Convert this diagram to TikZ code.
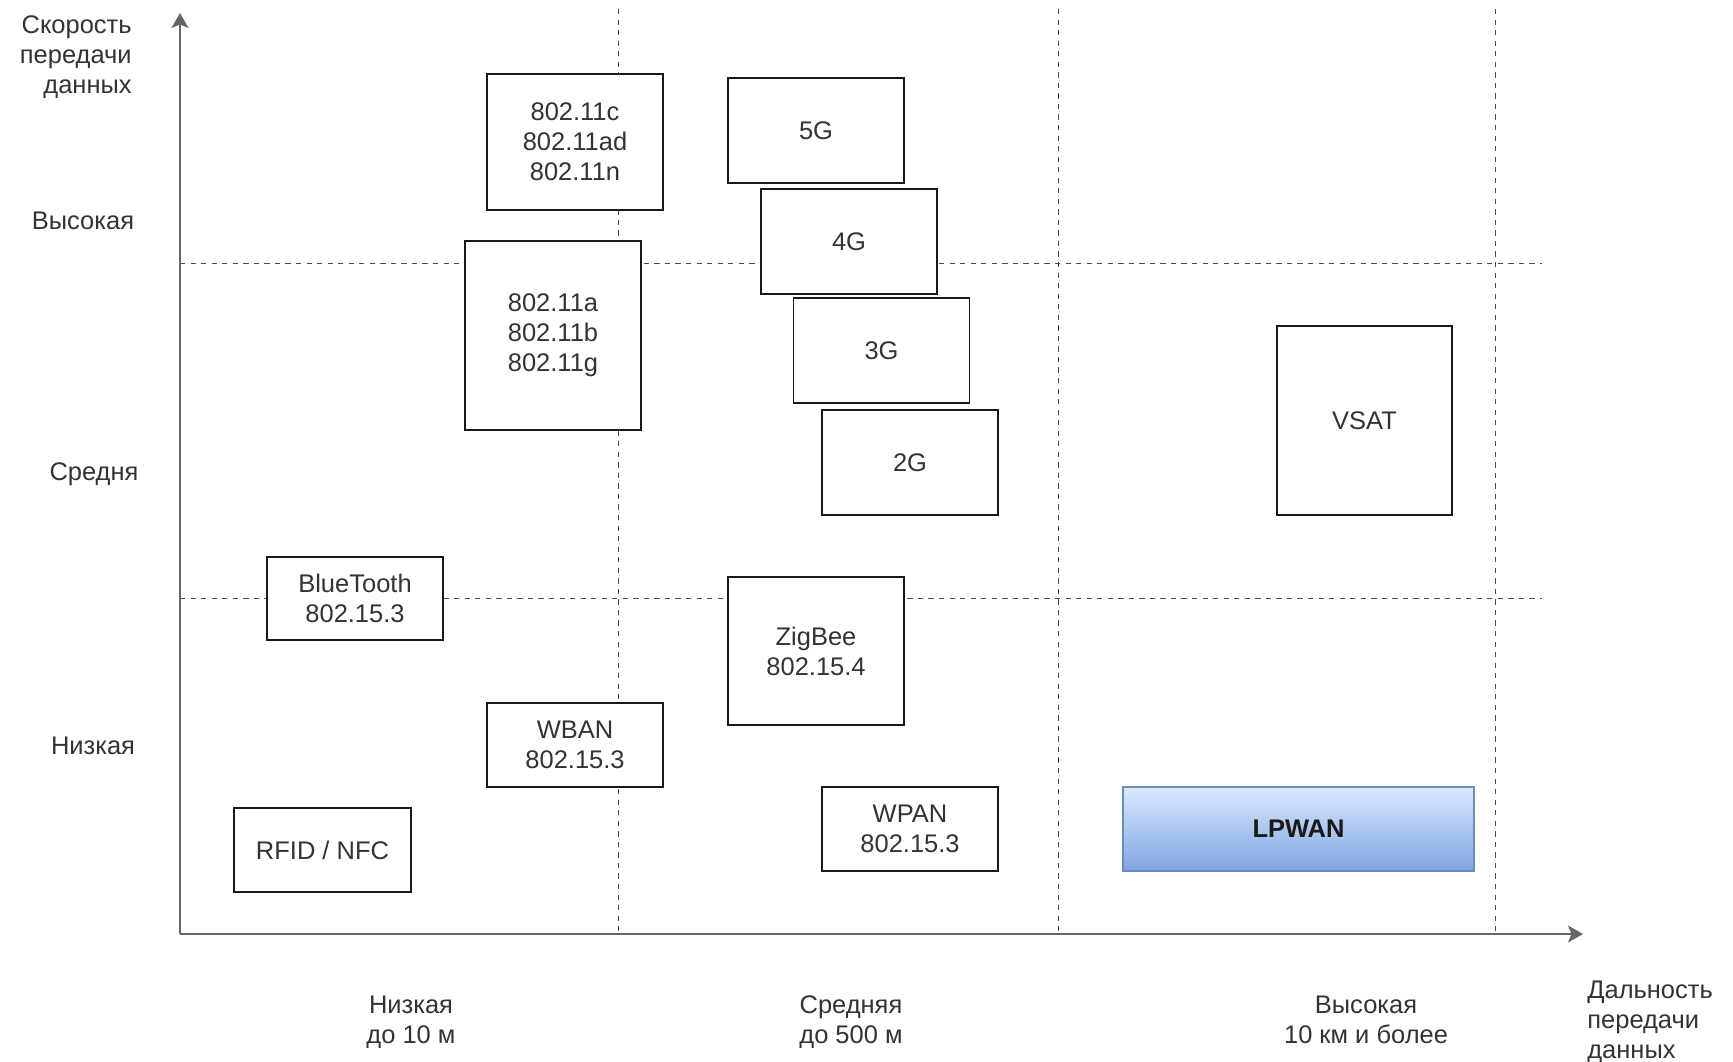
\documentclass[tikz,border=0pt]{standalone}
\usepackage{fontspec}
\setmainfont{Liberation Sans}
\usepackage{xcolor}
\usepackage{tikz}
\usetikzlibrary{arrows.meta, positioning}
\definecolor{axisgray}{HTML}{666666}
\definecolor{lpwtop}{HTML}{DAE8FC}
\definecolor{lpwbot}{HTML}{7EA6E0}
\definecolor{lpwline}{HTML}{6C8EBF}
\tikzstyle{arrow}    = [thick, draw=axisgray, -{Stealth[length=0.3cm, width=0.34cm, inset=0.07cm, fill=axisgray]}]
\tikzstyle{gridline} = [draw=black!70, dash pattern=on 3pt off 3pt]
\tikzstyle{block}    = [rectangle, draw=black!90, thick, fill=white, text centered, minimum width=3.52cm, minimum height=2.1cm, inner sep=0pt]
\tikzset{every node/.style={align=center, text=black!80, font=\fontsize{14.5}{17}\selectfont}}

\begin{document}
\begin{tikzpicture}[x=0.02cm, y=-0.02cm]
    \useasboundingbox (0, 0) rectangle (1733, 1061);

    % axes
    \coordinate (o)    at (180, 934);
    \coordinate (ytop) at (180, 13);
    \coordinate (xend) at (1583, 934);

    % dashed grid
    \foreach \gx in {618, 1058, 1495}
        \draw [gridline] (\gx, 9) -- (\gx, 934);
    \foreach \gy in {263, 598}
        \draw [gridline] (180, \gy) -- (1542, \gy);

    \draw [arrow] (o) -- (ytop);
    \draw [arrow] (o) -- (xend);

    % axis captions
    \node (yname) at (132, 57)  [anchor=east, align=right, inner sep=0pt] {Скорость\\передачи\\данных};
    \node (yhigh) at (83, 221)  {Высокая};
    \node (ymid)  at (94, 474)  {Средня};
    \node (ylow)  at (93, 746)  {Низкая};

    \node (xlow)  at (411, 1022)  {Низкая\\до 10 м};
    \node (xmid)  at (851, 1022)  {Средняя\\до 500 м};
    \node (xhigh) at (1366, 1020) {Высокая\\10 км и более};
    \node (xname) at (1587, 1022) [anchor=west, align=left, inner sep=0pt] {Дальность\\передачи\\данных};

    % technologies
    \node (wifihi)  at (575, 142)     [block, minimum height=2.72cm] {802.11c\\802.11ad\\802.11n};
    \node (wifimid) at (553, 335.5)   [block, minimum height=3.78cm] {802.11a\\802.11b\\802.11g};
    \node (bt)      at (355, 598.5)   [block, minimum height=1.66cm] {BlueTooth\\802.15.3};
    \node (wban)    at (575, 745)     [block, minimum height=1.68cm] {WBAN\\802.15.3};
    \node (rfid)    at (322.5, 850)   [block, minimum width=3.54cm, minimum height=1.68cm] {RFID / NFC};

    \node (g4)      at (849, 241.5)   [block] {4G};
    \node (g5)      at (816, 130.5)   [block] {5G};
    \node (g3)      at (881.5, 350.5) [block] {3G};
    \node (g2)      at (910, 462.5)   [block] {2G};
    \node (zigbee)  at (816, 651)     [block, minimum height=2.96cm] {ZigBee\\802.15.4};
    \node (wpan)    at (910, 829)     [block, minimum height=1.68cm] {WPAN\\802.15.3};

    \node (vsat)    at (1364.5, 420.5) [block, minimum width=3.5cm, minimum height=3.78cm] {VSAT};
    \node (lpwan)   at (1298.5, 829)   [block, draw=lpwline, top color=lpwtop, bottom color=lpwbot,
                                        minimum width=7.02cm, minimum height=1.68cm, text=black!90,
                                        font=\fontsize{14.5}{17}\selectfont\bfseries] {LPWAN};
\end{tikzpicture}
\end{document}
